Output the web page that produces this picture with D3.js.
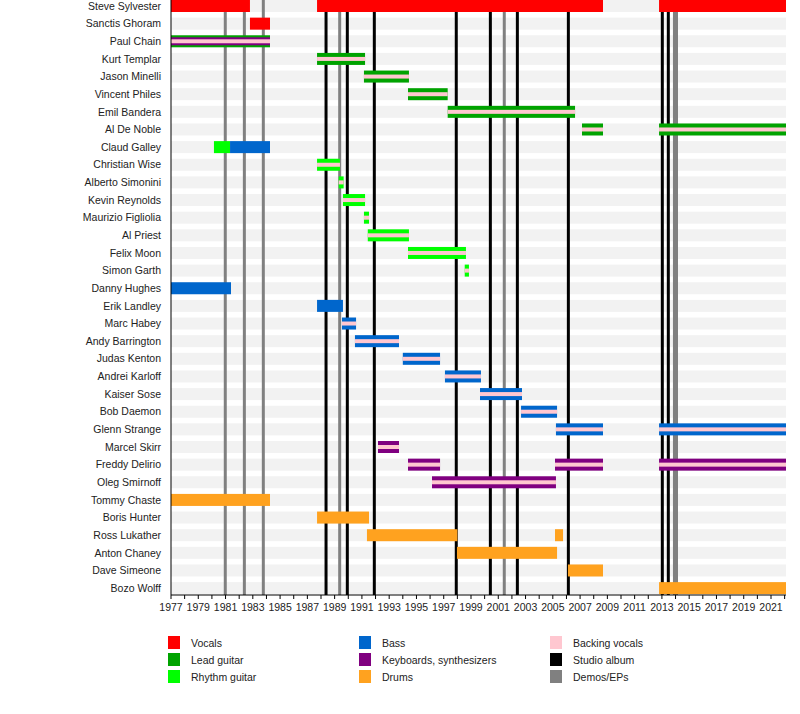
<!DOCTYPE html>
<html>
<head>
<meta charset="utf-8">
<script src="https://cdn.jsdelivr.net/npm/d3@7"></script>
<style>
  body { margin: 0; background: #fff; }
  text { font-family: "Liberation Sans", Arial, sans-serif; fill: #222; }
</style>
</head>
<body>
<div id="chart"></div>
<script>
// band members, top to bottom
const members = ['Steve Sylvester', 'Sanctis Ghoram', 'Paul Chain', 'Kurt Templar', 'Jason Minelli',
  'Vincent Philes', 'Emil Bandera', 'Al De Noble', 'Claud Galley', 'Christian Wise', 'Alberto Simonini',
  'Kevin Reynolds', 'Maurizio Figliolia', 'Al Priest', 'Felix Moon', 'Simon Garth', 'Danny Hughes',
  'Erik Landley', 'Marc Habey', 'Andy Barrington', 'Judas Kenton', 'Andrei Karloff', 'Kaiser Sose',
  'Bob Daemon', 'Glenn Strange', 'Marcel Skirr', 'Freddy Delirio', 'Oleg Smirnoff', 'Tommy Chaste',
  'Boris Hunter', 'Ross Lukather', 'Anton Chaney', 'Dave Simeone', 'Bozo Wolff'];

const roles = ['Vocals', 'Lead guitar', 'Rhythm guitar', 'Bass', 'Keyboards, synthesizers', 'Drums',
  'Backing vocals', 'Studio album', 'Demos/EPs'];

// [member, role, from, to]
const mainBars = [
  ['Steve Sylvester', 'Vocals', 1977, 1982.79],
  ['Steve Sylvester', 'Vocals', 1987.71, 2008.68],
  ['Steve Sylvester', 'Vocals', 2012.79, 2022.1],
  ['Sanctis Ghoram', 'Vocals', 1982.79, 1984.26],
  ['Paul Chain', 'Lead guitar', 1977, 1984.26],
  ['Kurt Templar', 'Lead guitar', 1987.71, 1991.23],
  ['Jason Minelli', 'Lead guitar', 1991.15, 1994.45],
  ['Vincent Philes', 'Lead guitar', 1994.38, 1997.29],
  ['Emil Bandera', 'Lead guitar', 1997.29, 2006.63],
  ['Al De Noble', 'Lead guitar', 2007.14, 2008.68],
  ['Al De Noble', 'Lead guitar', 2012.79, 2022.1],
  ['Claud Galley', 'Rhythm guitar', 1980.15, 1981.33],
  ['Claud Galley', 'Bass', 1981.33, 1984.26],
  ['Christian Wise', 'Rhythm guitar', 1987.71, 1989.39],
  ['Alberto Simonini', 'Rhythm guitar', 1989.3, 1989.66],
  ['Kevin Reynolds', 'Rhythm guitar', 1989.61, 1991.23],
  ['Maurizio Figliolia', 'Rhythm guitar', 1991.15, 1991.52],
  ['Al Priest', 'Rhythm guitar', 1991.43, 1994.45],
  ['Felix Moon', 'Rhythm guitar', 1994.38, 1998.63],
  ['Simon Garth', 'Rhythm guitar', 1998.54, 1998.85],
  ['Danny Hughes', 'Bass', 1977, 1981.4],
  ['Erik Landley', 'Bass', 1987.71, 1989.61],
  ['Marc Habey', 'Bass', 1989.54, 1990.57],
  ['Andy Barrington', 'Bass', 1990.49, 1993.72],
  ['Judas Kenton', 'Bass', 1994.0, 1996.73],
  ['Andrei Karloff', 'Bass', 1997.09, 1999.73],
  ['Kaiser Sose', 'Bass', 1999.66, 2002.74],
  ['Bob Daemon', 'Bass', 2002.67, 2005.31],
  ['Glenn Strange', 'Bass', 2005.23, 2008.68],
  ['Glenn Strange', 'Bass', 2012.79, 2022.1],
  ['Marcel Skirr', 'Keyboards, synthesizers', 1992.18, 1993.72],
  ['Freddy Delirio', 'Keyboards, synthesizers', 1994.38, 1996.73],
  ['Freddy Delirio', 'Keyboards, synthesizers', 2005.16, 2008.68],
  ['Freddy Delirio', 'Keyboards, synthesizers', 2012.79, 2022.1],
  ['Oleg Smirnoff', 'Keyboards, synthesizers', 1996.14, 2005.23],
  ['Tommy Chaste', 'Drums', 1977, 1984.26],
  ['Boris Hunter', 'Drums', 1987.71, 1991.52],
  ['Ross Lukather', 'Drums', 1991.37, 1998.0],
  ['Ross Lukather', 'Drums', 2005.16, 2005.75],
  ['Anton Chaney', 'Drums', 1997.97, 2005.31],
  ['Dave Simeone', 'Drums', 2006.11, 2008.68],
  ['Bozo Wolff', 'Drums', 2012.79, 2022.1]
];

// second instrument, drawn thinner on top
const secondBars = [
  ['Paul Chain', 'Keyboards, synthesizers', 1977, 1984.26]
];

// members who also sang backing vocals (thin stripe over all their bars)
const backingVocalists = ['Paul Chain', 'Kurt Templar', 'Jason Minelli', 'Vincent Philes', 'Emil Bandera',
  'Al De Noble', 'Christian Wise', 'Alberto Simonini', 'Kevin Reynolds', 'Maurizio Figliolia', 'Al Priest',
  'Felix Moon', 'Simon Garth', 'Marc Habey', 'Andy Barrington', 'Judas Kenton', 'Andrei Karloff',
  'Kaiser Sose', 'Bob Daemon', 'Glenn Strange', 'Marcel Skirr', 'Freddy Delirio', 'Oleg Smirnoff'];

const studioAlbums = [1988.37, 1989.93, 1991.91, 1997.92, 2000.42, 2002.4, 2006.14, 2013.03, 2013.47];
const demos = [1980.98, 1982.38, 1983.77, 1989.37, 2001.44, 2013.92, 2014.07];

const yearStart = 1977, yearEnd = 2022.1;
const tickYears = d3.range(1977, 2022, 2);

///////////////////////////////////////

const W = 800, H = 714;
const left = 171, right = 786, axisY = 595;
const rowStep = 17.64, firstRow = 6;
const barH = 12;

const svg = d3.select('#chart').append('svg')
  .attr('width', W).attr('height', H);

const x = d3.scaleLinear().domain([yearStart, yearEnd]).range([left, right]);
const y = d3.scaleBand().domain(members)
  .range([firstRow - rowStep / 2, firstRow + rowStep * (members.length - 0.5)]);
const yc = m => y(m) + y.bandwidth() / 2;

const color = d3.scaleOrdinal().domain(roles)
  .range(['#ff0000', '#00a300', '#00ff00', '#0066cc', '#800080', '#ffa21f', '#ffc7d0', '#000000', '#808080']);

// row background bands
svg.append('g').selectAll('rect')
  .data(members).enter().append('rect')
  .attr('x', left).attr('width', right - left)
  .attr('y', d => yc(d) - barH / 2).attr('height', barH)
  .attr('fill', '#f2f2f2');

// release lines
const lines = svg.append('g');
lines.selectAll('line.demo')
  .data(demos).enter().append('line')
  .attr('class', 'demo')
  .attr('x1', d => x(d)).attr('x2', d => x(d))
  .attr('y1', 0).attr('y2', axisY)
  .attr('stroke', color('Demos/EPs')).attr('stroke-width', 3);
lines.selectAll('line.album')
  .data(studioAlbums).enter().append('line')
  .attr('class', 'album')
  .attr('x1', d => x(d)).attr('x2', d => x(d))
  .attr('y1', 0).attr('y2', axisY)
  .attr('stroke', color('Studio album')).attr('stroke-width', 3);

// bars
const drawBars = (data, h, fillFn) => {
  svg.append('g').selectAll('rect')
    .data(data).enter().append('rect')
    .attr('x', d => x(d[2]))
    .attr('width', d => x(d[3]) - x(d[2]))
    .attr('y', d => yc(d[0]) - h / 2)
    .attr('height', h)
    .attr('fill', fillFn);
};
drawBars(mainBars, barH, d => color(d[1]));
drawBars(secondBars, 8, d => color(d[1]));
drawBars(mainBars.filter(d => backingVocalists.includes(d[0])), 4, () => color('Backing vocals'));

// member names
svg.append('g').selectAll('text')
  .data(members).enter().append('text')
  .attr('x', left - 10).attr('y', d => yc(d))
  .attr('dy', '0.35em')
  .attr('text-anchor', 'end')
  .style('font-size', '10.5px')
  .text(d => d);

// left edge
svg.append('line')
  .attr('x1', left).attr('x2', left).attr('y1', 0).attr('y2', axisY)
  .attr('stroke', '#000').attr('stroke-width', 1);

// time axis
const axis = svg.append('g').attr('transform', `translate(0,${axisY})`);
axis.append('line').attr('x1', left).attr('x2', right).attr('stroke', '#000');
axis.selectAll('line.tick')
  .data(d3.range(1977, 2023)).enter().append('line')
  .attr('class', 'tick')
  .attr('x1', d => x(d)).attr('x2', d => x(d))
  .attr('y1', 0).attr('y2', 4)
  .attr('stroke', '#000');
axis.selectAll('text')
  .data(tickYears).enter().append('text')
  .attr('x', d => x(d)).attr('y', 16)
  .attr('text-anchor', 'middle')
  .style('font-size', '10.5px')
  .text(d => d);

// legend
const legendCols = [168, 359, 550];
const legend = svg.append('g').selectAll('g')
  .data(roles).enter().append('g')
  .attr('transform', (d, i) => `translate(${legendCols[Math.floor(i / 3)]},${636 + (i % 3) * 17})`);
legend.append('rect')
  .attr('width', 12).attr('height', 13)
  .attr('fill', d => color(d));
legend.append('text')
  .attr('x', 23).attr('y', 7).attr('dy', '0.35em')
  .style('font-size', '10.5px')
  .text(d => d);
</script>
</body>
</html>
